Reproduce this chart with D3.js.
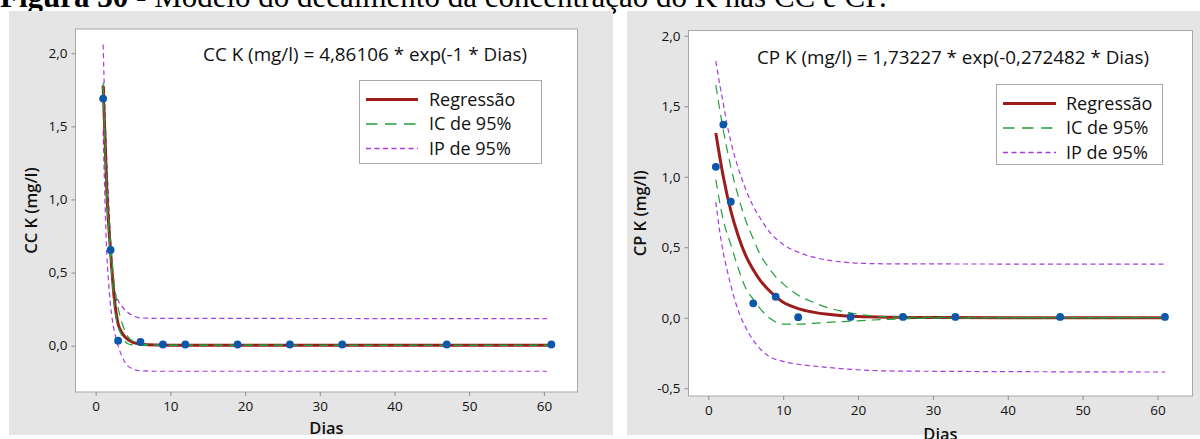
<!DOCTYPE html>
<html>
<head>
<meta charset="utf-8">
<script src="https://cdn.jsdelivr.net/npm/d3@7"></script>
<style>
  body { margin: 0; background: #fff; }
  text { font-family: "Open Sans", "Noto Sans", sans-serif; fill: #111; }
  .tick text { font-size: 13.5px; }
  .tick line { stroke: #8c8c8c; }
  .axislabel { font-size: 16.5px; font-weight: 600; }
  .eq { font-size: 17.5px; }
  .leg { font-size: 18px; }
</style>
</head>
<body>
<div id="chart"></div>
<script>
// measured days (same for both panels)
const days = [1, 2, 3, 6, 9, 12, 19, 26, 33, 47, 61];
const ccValues = [1.69, 0.655, 0.034, 0.025, 0.008, 0.008, 0.008, 0.008, 0.008, 0.008, 0.008];
const cpValues = [1.07, 1.37, 0.823, 0.102, 0.149, 0.004, 0.006, 0.006, 0.006, 0.006, 0.006];

// CC curves
const ccRegDays = [1, 1.5, 2, 2.5, 3, 3.5, 4, 5, 6, 8, 12, 61];
const ccReg     = [1.78, 1.05, 0.64, 0.32, 0.15, 0.09, 0.055, 0.022, 0.01, 0.004, 0.002, 0.002];
const ccCIDays  = [1, 1.5, 2, 2.5, 3, 3.5, 4, 4.5, 5, 6, 8, 61];
const ccCIup    = [1.8, 1.08, 0.7, 0.42, 0.26, 0.16, 0.09, 0.05, 0.03, 0.012, 0.004, 0.002];
const ccCIlo    = [1.76, 1.0, 0.6, 0.27, 0.13, 0.07, 0.025, 0.01, 0.005, 0.002, 0.002, 0.002];
const ccPIDays  = [1, 1.25, 1.5, 1.75, 2, 2.25, 2.5, 3, 3.5, 4, 5, 6, 8, 60.4];
const ccPIup    = [2.06, 1.6, 1.25, 0.98, 0.72, 0.5, 0.38, 0.31, 0.27, 0.24, 0.205, 0.19, 0.187, 0.185];
const ccPIlo    = [1.47, 0.98, 0.62, 0.42, 0.27, 0.17, 0.1, 0.0, -0.07, -0.12, -0.16, -0.172, -0.175, -0.175];

// CP curves
const cpRegDays = [1, 2, 3, 4, 5, 6, 7, 8, 9, 10, 12, 14, 16, 18, 20, 25, 30, 40, 61];
const cpReg     = [1.31, 1.0, 0.76, 0.58, 0.44, 0.34, 0.26, 0.2, 0.15, 0.11, 0.065, 0.04, 0.024, 0.014, 0.008, 0.003, 0.001, 0, 0];
const cpCIDays  = [1, 2, 3, 4, 5, 6, 7, 8, 9, 10, 12, 14, 16, 18, 20, 22, 25, 30, 61];
const cpCIup    = [1.65, 1.33, 1.07, 0.86, 0.69, 0.56, 0.44, 0.36, 0.29, 0.24, 0.16, 0.11, 0.07, 0.045, 0.025, 0.012, 0.005, 0.002, 0];
const cpCIlo    = [0.98, 0.69, 0.52, 0.35, 0.21, 0.13, 0.06, 0.005, -0.03, -0.045, -0.045, -0.04, -0.033, -0.027, -0.022, -0.016, -0.01, -0.003, 0];
const cpPIDays  = [1, 1.5, 2, 2.5, 3, 4, 5, 6, 7, 8, 10, 12, 14, 16, 18, 20, 25, 61];
const cpPIup    = [1.82, 1.66, 1.52, 1.37, 1.25, 1.06, 0.91, 0.79, 0.7, 0.62, 0.52, 0.465, 0.43, 0.408, 0.395, 0.387, 0.382, 0.38];
const cpPIlo    = [0.82, 0.62, 0.46, 0.34, 0.23, 0.05, -0.07, -0.16, -0.225, -0.27, -0.31, -0.33, -0.342, -0.353, -0.362, -0.369, -0.378, -0.385];

const xTicks = [0, 10, 20, 30, 40, 50, 60];
const ccYTicks = [0, 0.5, 1, 1.5, 2];
const cpYTicks = [-0.5, 0, 0.5, 1, 1.5, 2];
const legendLabels = ["Regressão", "IC de 95%", "IP de 95%"];

const width = 1200, height = 439;
const regColor = "#9c1b1b", ciColor = "#22a03c", piColor = "#a93be0", ptColor = "#0b58ab";
const comma = d => d3.format(".1f")(d).replace(".", ",").replace("−", "-");

const zip = (a, b) => a.map((d, i) => [d, b[i]]);

function drawPanel(svg, p) {
  const g = svg.append("g");
  g.append("rect")
    .attr("x", p.bg[0]).attr("y", p.bg[1]).attr("width", p.bg[2]).attr("height", p.bg[3])
    .attr("fill", "#e5e5e5");

  const x = d3.scaleLinear().domain(p.xDom).range([p.frame.left, p.frame.right]);
  const y = d3.scaleLinear().domain(p.yDom).range([p.frame.bottom, p.frame.top]);

  g.append("rect")
    .attr("x", p.frame.left).attr("y", p.frame.top)
    .attr("width", p.frame.right - p.frame.left).attr("height", p.frame.bottom - p.frame.top)
    .attr("fill", "#fff").attr("stroke", "#a8a8a8");

  g.append("g")
    .attr("transform", `translate(0,${p.frame.bottom})`)
    .call(d3.axisBottom(x).tickValues(xTicks).tickSize(4).tickPadding(5))
    .call(a => a.select(".domain").remove());

  g.append("g")
    .attr("transform", `translate(${p.frame.left},0)`)
    .call(d3.axisLeft(y).tickValues(p.yTicks).tickFormat(comma).tickSize(4).tickPadding(4))
    .call(a => a.select(".domain").remove());

  // axis titles
  g.append("text").attr("class", "axislabel")
    .attr("text-anchor", "middle")
    .attr("x", (p.frame.left + p.frame.right) / 2)
    .attr("y", p.xLabelY)
    .text("Dias");
  g.append("text").attr("class", "axislabel")
    .attr("text-anchor", "middle")
    .attr("transform", `translate(${p.yLabelX},${(p.frame.top + p.frame.bottom) / 2}) rotate(-90)`)
    .text(p.yLabel);

  const line = d3.line().x(d => x(d[0])).y(d => y(d[1])).curve(d3.curveMonotoneX);

  const curves = g.append("g");
  [p.piUp, p.piLo].forEach(c => curves.append("path").datum(c)
    .attr("d", line).attr("fill", "none")
    .attr("stroke", piColor).attr("stroke-width", 1.2).attr("stroke-dasharray", "5,3.5"));
  curves.append("path").datum(p.reg)
    .attr("d", line).attr("fill", "none")
    .attr("stroke", regColor).attr("stroke-width", 3);
  [p.ciUp, p.ciLo].forEach(c => curves.append("path").datum(c)
    .attr("d", line).attr("fill", "none")
    .attr("stroke", ciColor).attr("stroke-width", 1.2).attr("stroke-dasharray", "9,6"));

  g.append("g").selectAll("circle")
    .data(p.pts).join("circle")
    .attr("cx", d => x(d[0])).attr("cy", d => y(d[1]))
    .attr("r", 3.9).attr("fill", ptColor);

  g.append("text").attr("class", "eq")
    .attr("x", p.eqX).attr("y", p.eqY)
    .attr("textLength", p.eqW).attr("lengthAdjust", "spacingAndGlyphs")
    .text(p.eq);

  // legend
  const L = p.legend;
  const leg = g.append("g");
  leg.append("rect")
    .attr("x", L.x).attr("y", L.y).attr("width", L.w).attr("height", L.h)
    .attr("fill", "#fff").attr("stroke", "#a8a8a8");
  const styles = [
    {c: regColor, w: 3, dash: null},
    {c: ciColor, w: 1.3, dash: "11.5,7.5"},
    {c: piColor, w: 1.3, dash: "5,3.5"}
  ];
  legendLabels.forEach((lab, i) => {
    const ly = L.y + L.first + i * L.step;
    leg.append("line")
      .attr("x1", L.lx1).attr("x2", L.lx2).attr("y1", ly).attr("y2", ly)
      .attr("stroke", styles[i].c).attr("stroke-width", styles[i].w)
      .attr("stroke-dasharray", styles[i].dash);
    leg.append("text").attr("class", "leg")
      .attr("x", L.tx).attr("y", ly).attr("dy", "0.35em")
      .text(lab);
  });
}

document.addEventListener("DOMContentLoaded", function() {
  const svg = d3.select("#chart").append("svg").attr("width", width).attr("height", height);

  // caption, mostly cropped at the top of the page
  const cap = svg.append("text")
    .attr("x", 0).attr("y", 7)
    .style("font-family", "'Liberation Serif', 'Times New Roman', serif")
    .style("font-size", "31px").style("fill", "#000");
  cap.append("tspan").style("font-weight", "bold").text("Figura 30");
  cap.append("tspan").text(" - Modelo do decaimento da concentração do K nas CC e CP.");

  drawPanel(svg, {
    bg: [9, 11, 604, 424],
    frame: {left: 75.5, right: 577.5, top: 29, bottom: 392},
    xDom: [-2.7, 64.5], yDom: [-0.317, 2.166], yTicks: ccYTicks,
    yLabel: "CC K (mg/l)", yLabelX: 37, xLabelY: 434,
    reg: zip(ccRegDays, ccReg),
    ciUp: zip(ccCIDays, ccCIup), ciLo: zip(ccCIDays, ccCIlo),
    piUp: zip(ccPIDays, ccPIup), piLo: zip(ccPIDays, ccPIlo),
    pts: zip(days, ccValues),
    eq: "CC K (mg/l) = 4,86106 * exp(-1 * Dias)", eqX: 203, eqY: 61, eqW: 324,
    legend: {x: 359.5, y: 80.5, w: 182, h: 83, first: 19, step: 24.5, lx1: 366, lx2: 418, tx: 429}
  });

  drawPanel(svg, {
    bg: [627, 11, 573, 424],
    frame: {left: 688.5, right: 1192.5, top: 30.5, bottom: 396},
    xDom: [-2.65, 64.68], yDom: [-0.555, 2.037], yTicks: cpYTicks,
    yLabel: "CP K (mg/l)", yLabelX: 646, xLabelY: 440,
    reg: zip(cpRegDays, cpReg),
    ciUp: zip(cpCIDays, cpCIup), ciLo: zip(cpCIDays, cpCIlo),
    piUp: zip(cpPIDays, cpPIup), piLo: zip(cpPIDays, cpPIlo),
    pts: zip(days, cpValues),
    eq: "CP K (mg/l) = 1,73227 * exp(-0,272482 * Dias)", eqX: 757, eqY: 64, eqW: 392,
    legend: {x: 996.5, y: 84.5, w: 166, h: 80, first: 19, step: 24.5, lx1: 1003, lx2: 1056, tx: 1066}
  });
});
</script>
</body>
</html>
